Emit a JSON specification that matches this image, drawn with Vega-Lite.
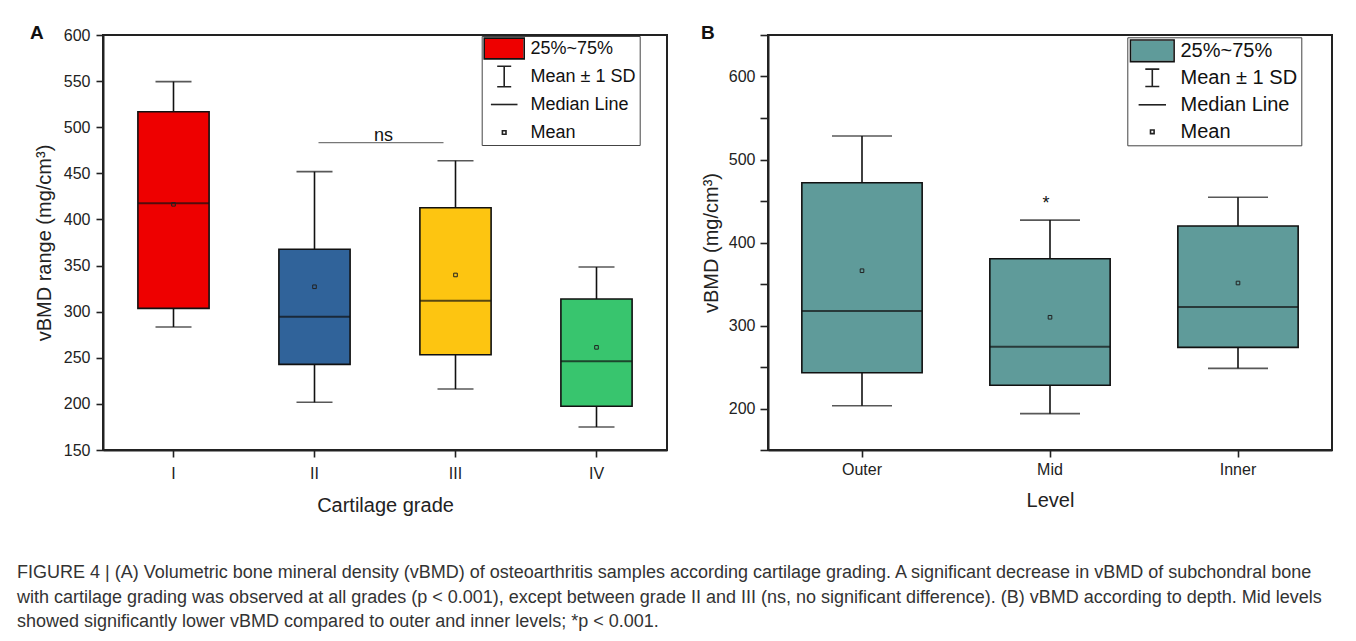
{
  "$schema": "https://vega.github.io/schema/vega-lite/v6.json",
  "background": "white",
  "padding": {"left": 17, "top": 23, "right": 5, "bottom": 5},
  "title": {
    "text": [
      "FIGURE 4 | (A) Volumetric bone mineral density (vBMD) of osteoarthritis samples according cartilage grading. A significant decrease in vBMD of subchondral bone",
      "with cartilage grading was observed at all grades (p < 0.001), except between grade II and III (ns, no significant difference). (B) vBMD according to depth. Mid levels",
      "showed significantly lower vBMD compared to outer and inner levels; *p < 0.001."
    ],
    "orient": "bottom",
    "anchor": "start",
    "frame": "bounds",
    "dx": -12,
    "font": "Liberation Sans",
    "fontSize": 18,
    "fontWeight": "normal",
    "color": "#333333",
    "lineHeight": 24.5,
    "offset": 48
  },
  "config": {
    "view": {"stroke": "#222222", "strokeWidth": 2},
    "axis": {
      "domainColor": "#222222",
      "domainWidth": 2,
      "tickColor": "#222222",
      "tickWidth": 1.6,
      "labelColor": "#222222",
      "titleColor": "#222222",
      "labelFont": "Liberation Sans",
      "titleFont": "Liberation Sans",
      "labelFontSize": 16,
      "titleFontSize": 20,
      "titleFontWeight": "normal",
      "grid": false
    }
  },
  "resolve": {"scale": {"shape": "independent", "fill": "independent", "stroke": "independent"}, "legend": {"shape": "independent", "fill": "independent", "stroke": "independent"}},
  "hconcat": [
    {
      "width": 564,
      "height": 415,
      "title": {"text": "A", "anchor": "start", "frame": "group", "dx": -73, "offset": -31, "baseline": "alphabetic", "font": "Liberation Sans", "fontSize": 19, "fontWeight": "bold", "color": "#111111"},
      "data": {"values": [
        {"grade": "I", "wlo": 283.4, "q1": 303.6, "med": 417.5, "mean": 416.4, "q3": 516.8, "whi": 549.4},
        {"grade": "II", "wlo": 201.7, "q1": 242.9, "med": 294.6, "mean": 327.0, "q3": 367.6, "whi": 451.8},
        {"grade": "III", "wlo": 216.1, "q1": 253.3, "med": 311.9, "mean": 339.8, "q3": 412.7, "whi": 463.7},
        {"grade": "IV", "wlo": 174.9, "q1": 197.4, "med": 246.2, "mean": 261.3, "q3": 313.7, "whi": 348.4}
      ]},
      "encoding": {
        "x": {
          "field": "grade", "type": "nominal",
          "scale": {"domain": ["I", "II", "III", "IV"], "paddingInner": 0, "paddingOuter": 0},
          "title": "Cartilage grade",
          "axis": {"labelAngle": 0, "tickSize": 7, "labelPadding": 8, "titleY": 61, "titleBaseline": "alphabetic"}
        }
      },
      "layer": [
        {
          "mark": {"type": "rule", "stroke": "#111111", "strokeWidth": 1.6},
          "encoding": {
            "y": {
              "field": "wlo", "type": "quantitative",
              "scale": {"domain": [150, 600], "nice": false, "zero": false},
              "title": "vBMD range (mg/cm³)",
              "axis": {
                "values": [150, 175, 200, 225, 250, 275, 300, 325, 350, 375, 400, 425, 450, 475, 500, 525, 550, 575, 600],
                "labelExpr": "datum.value % 50 === 0 ? datum.label : ''",
                "tickSize": 7, "labelPadding": 6,
                "titleX": -53, "titleBaseline": "alphabetic",
                "encode": {"ticks": {"x2": {"value": {"expr": "datum.value % 50 === 0 ? -7 : -4"}}}}
              }
            },
            "y2": {"field": "whi"}
          }
        },
        {
          "mark": {"type": "tick", "orient": "horizontal", "size": 36, "thickness": 1.6, "color": "#111111"},
          "encoding": {"y": {"field": "whi", "type": "quantitative"}}
        },
        {
          "mark": {"type": "tick", "orient": "horizontal", "size": 36, "thickness": 1.6, "color": "#111111"},
          "encoding": {"y": {"field": "wlo", "type": "quantitative"}}
        },
        {
          "mark": {"type": "bar", "width": {"band": 0.505}, "stroke": "#111111", "strokeWidth": 1.6},
          "encoding": {
            "y": {"field": "q1", "type": "quantitative"},
            "y2": {"field": "q3"},
            "color": {
              "field": "grade", "type": "nominal",
              "scale": {"domain": ["I", "II", "III", "IV"], "range": ["#EE0000", "#30639A", "#FDC511", "#38C56E"]},
              "legend": null
            },
            "opacity": {"value": 1}
          }
        },
        {
          "mark": {"type": "tick", "orient": "horizontal", "size": 71, "thickness": 2, "color": "#111111"},
          "encoding": {"y": {"field": "med", "type": "quantitative"}}
        },
        {
          "mark": {"type": "point", "filled": true, "size": 100, "opacity": 0},
          "encoding": {
            "y": {"field": "mean", "type": "quantitative"},
            "fill": {
              "datum": "25%~75%",
              "scale": {"domain": ["25%~75%"], "range": ["#EE0000"]},
              "legend": {
                "title": null, "orient": "none", "legendX": 378.7, "legendY": 1,
                "symbolType": "M-3.84,-1.92H3.84V1.92H-3.84Z",
                "symbolSize": 100, "symbolOffset": 10, "labelOffset": 17.3,
                "labelFontSize": 18, "labelFont": "Liberation Sans", "labelColor": "transparent",
                "padding": 3.5, "rowPadding": 0, "gridAlign": "all",
                "strokeColor": "transparent", "fillColor": "transparent",
                "symbolStrokeWidth": 0, "symbolStrokeColor": "transparent", "symbolOpacity": 1
              }
            }
          }
        },
        {
          "mark": {"type": "point", "filled": false, "size": 100, "strokeWidth": 1.6, "opacity": 0},
          "encoding": {
            "y": {"field": "mean", "type": "quantitative"},
            "stroke": {
              "datum": "25%~75%",
              "scale": {"domain": ["25%~75%"], "range": ["#111111"]},
              "legend": {
                "title": null, "orient": "none", "legendX": 378.7, "legendY": 1,
                "symbolType": "M-4,-2.08H4V2.08H-4Z",
                "symbolSize": 100, "symbolOffset": 10, "labelOffset": 17.3,
                "labelFontSize": 18, "labelFont": "Liberation Sans", "labelColor": "transparent",
                "padding": 3.5, "rowPadding": 0, "gridAlign": "all",
                "strokeColor": "transparent", "fillColor": "transparent",
                "symbolStrokeWidth": 1.6, "symbolFillColor": "transparent", "symbolOpacity": 1
              }
            }
          }
        },
        {
          "mark": {"type": "point", "filled": false, "size": 100, "stroke": "#222222", "strokeWidth": 1, "opacity": 1},
          "encoding": {
            "y": {"field": "mean", "type": "quantitative"},
            "shape": {
              "datum": "Mean",
              "scale": {
                "domain": ["25%~75%", "Mean ± 1 SD", "Median Line", "Mean"],
                "range": ["M0,0", "M-1.4,-2.04H1.4M0,-2.04V2.04M-1.4,2.04H1.4", "M-2.66,0H2.66", "M-0.36,-0.36H0.36V0.36H-0.36Z"]
              },
              "legend": {
                "title": null, "orient": "none", "legendX": 378.7, "legendY": 1,
                "symbolSize": 100, "symbolOffset": 10, "labelOffset": 17.3,
                "labelFontSize": 18, "labelFont": "Liberation Sans", "labelColor": "#111111",
                "padding": 3.5, "rowPadding": 0, "gridAlign": "all",
                "strokeColor": "#444444", "fillColor": "transparent", "symbolStrokeWidth": 1.6,
                "symbolOpacity": 1
              }
            }
          }
        },
        {
          "data": {"values": [{"from": "II", "to": "III", "y": 483.2, "label": "ns"}]},
          "mark": {"type": "rule", "stroke": "#777777", "strokeWidth": 1.2, "xOffset": 4, "x2Offset": -12},
          "encoding": {
            "x": {"field": "from", "type": "nominal"},
            "x2": {"field": "to"},
            "y": {"field": "y", "type": "quantitative"}
          }
        },
        {
          "data": {"values": [{"from": "II", "y": 485.5, "label": "ns"}]},
          "mark": {"type": "text", "font": "Liberation Sans", "fontSize": 18, "color": "#111111", "baseline": "alphabetic", "xOffset": 69},
          "encoding": {
            "x": {"field": "from", "type": "nominal"},
            "y": {"field": "y", "type": "quantitative"},
            "text": {"field": "label"}
          }
        }
      ],
      "resolve": {"scale": {"shape": "independent", "fill": "independent", "stroke": "independent"}, "legend": {"shape": "independent", "fill": "independent", "stroke": "independent"}}
    },
    {
      "width": 564,
      "height": 415,
      "title": {"text": "B", "anchor": "start", "frame": "group", "dx": -67, "offset": -24, "baseline": "alphabetic", "font": "Liberation Sans", "fontSize": 19, "fontWeight": "bold", "color": "#111111"},
      "data": {"values": [
        {"level": "Outer", "wlo": 203.4, "q1": 243.0, "med": 317.5, "mean": 366.0, "q3": 472.0, "whi": 528.3},
        {"level": "Mid", "wlo": 193.8, "q1": 228.0, "med": 274.5, "mean": 309.9, "q3": 380.5, "whi": 427.0},
        {"level": "Inner", "wlo": 248.4, "q1": 273.7, "med": 322.3, "mean": 351.2, "q3": 419.9, "whi": 454.5}
      ]},
      "encoding": {
        "x": {
          "field": "level", "type": "nominal",
          "scale": {"domain": ["Outer", "Mid", "Inner"], "paddingInner": 0, "paddingOuter": 0},
          "title": "Level",
          "axis": {"labelAngle": 0, "tickSize": 7, "labelPadding": 4, "titleY": 56.5, "titleBaseline": "alphabetic"}
        }
      },
      "layer": [
        {
          "mark": {"type": "rule", "stroke": "#111111", "strokeWidth": 1.6},
          "encoding": {
            "y": {
              "field": "wlo", "type": "quantitative",
              "scale": {"domain": [150, 650], "nice": false, "zero": false},
              "title": "vBMD (mg/cm³)",
              "axis": {
                "values": [150, 200, 250, 300, 350, 400, 450, 500, 550, 600, 650],
                "labelExpr": "datum.value % 100 === 0 ? datum.label : ''",
                "tickSize": 8, "labelPadding": 5,
                "titleX": -51, "titleBaseline": "alphabetic",
                "encode": {"ticks": {"x2": {"value": {"expr": "datum.value % 100 === 0 ? -8 : -4"}}}}
              }
            },
            "y2": {"field": "whi"}
          }
        },
        {
          "mark": {"type": "tick", "orient": "horizontal", "size": 60, "thickness": 1.6, "color": "#111111"},
          "encoding": {"y": {"field": "whi", "type": "quantitative"}}
        },
        {
          "mark": {"type": "tick", "orient": "horizontal", "size": 60, "thickness": 1.6, "color": "#111111"},
          "encoding": {"y": {"field": "wlo", "type": "quantitative"}}
        },
        {
          "mark": {"type": "bar", "width": {"band": 0.64}, "fill": "#5F9B9A", "stroke": "#111111", "strokeWidth": 1.6, "opacity": 1},
          "encoding": {
            "y": {"field": "q1", "type": "quantitative"},
            "y2": {"field": "q3"}
          }
        },
        {
          "mark": {"type": "tick", "orient": "horizontal", "size": 120, "thickness": 2, "color": "#111111"},
          "encoding": {"y": {"field": "med", "type": "quantitative"}}
        },
        {
          "mark": {"type": "point", "filled": true, "size": 100, "opacity": 0},
          "encoding": {
            "y": {"field": "mean", "type": "quantitative"},
            "fill": {
              "datum": "25%~75%",
              "scale": {"domain": ["25%~75%"], "range": ["#5F9B9A"]},
              "legend": {
                "title": null, "orient": "none", "legendX": 359.3, "legendY": 2.3,
                "symbolType": "M-4.2,-2.01H4.2V2.01H-4.2Z",
                "symbolSize": 100, "symbolOffset": 11.5, "labelOffset": 18.2,
                "labelFontSize": 20, "labelFont": "Liberation Sans", "labelColor": "transparent",
                "padding": 3.5, "rowPadding": 3, "gridAlign": "all",
                "strokeColor": "transparent", "fillColor": "transparent",
                "symbolStrokeWidth": 0, "symbolStrokeColor": "transparent", "symbolOpacity": 1
              }
            }
          }
        },
        {
          "mark": {"type": "point", "filled": false, "size": 100, "strokeWidth": 1.6, "opacity": 0},
          "encoding": {
            "y": {"field": "mean", "type": "quantitative"},
            "stroke": {
              "datum": "25%~75%",
              "scale": {"domain": ["25%~75%"], "range": ["#111111"]},
              "legend": {
                "title": null, "orient": "none", "legendX": 359.3, "legendY": 2.3,
                "symbolType": "M-4.36,-2.17H4.36V2.17H-4.36Z",
                "symbolSize": 100, "symbolOffset": 11.5, "labelOffset": 18.2,
                "labelFontSize": 20, "labelFont": "Liberation Sans", "labelColor": "transparent",
                "padding": 3.5, "rowPadding": 3, "gridAlign": "all",
                "strokeColor": "transparent", "fillColor": "transparent",
                "symbolStrokeWidth": 1.6, "symbolFillColor": "transparent", "symbolOpacity": 1
              }
            }
          }
        },
        {
          "mark": {"type": "point", "filled": false, "size": 100, "stroke": "#222222", "strokeWidth": 1, "opacity": 1},
          "encoding": {
            "y": {"field": "mean", "type": "quantitative"},
            "shape": {
              "datum": "Mean",
              "scale": {
                "domain": ["25%~75%", "Mean ± 1 SD", "Median Line", "Mean"],
                "range": ["M0,0", "M-1.4,-1.73H1.4M0,-1.73V1.73M-1.4,1.73H1.4", "M-2.74,0H2.74", "M-0.36,-0.36H0.36V0.36H-0.36Z"]
              },
              "legend": {
                "title": null, "orient": "none", "legendX": 359.3, "legendY": 2.3,
                "symbolSize": 100, "symbolOffset": 11.5, "labelOffset": 18.2,
                "labelFontSize": 20, "labelFont": "Liberation Sans", "labelColor": "#111111",
                "padding": 3.5, "rowPadding": 3, "gridAlign": "all",
                "strokeColor": "#444444", "fillColor": "transparent", "symbolStrokeWidth": 1.6,
                "symbolOpacity": 1
              }
            }
          }
        },
        {
          "data": {"values": [{"level": "Mid", "y": 440, "label": "*"}]},
          "mark": {"type": "text", "font": "Liberation Sans", "fontSize": 18, "color": "#111111", "baseline": "alphabetic", "xOffset": -4},
          "encoding": {
            "x": {"field": "level", "type": "nominal"},
            "y": {"field": "y", "type": "quantitative"},
            "text": {"field": "label"}
          }
        }
      ],
      "resolve": {"scale": {"shape": "independent", "fill": "independent", "stroke": "independent"}, "legend": {"shape": "independent", "fill": "independent", "stroke": "independent"}}
    }
  ],
  "spacing": 101,
  "bounds": "flush"
}
